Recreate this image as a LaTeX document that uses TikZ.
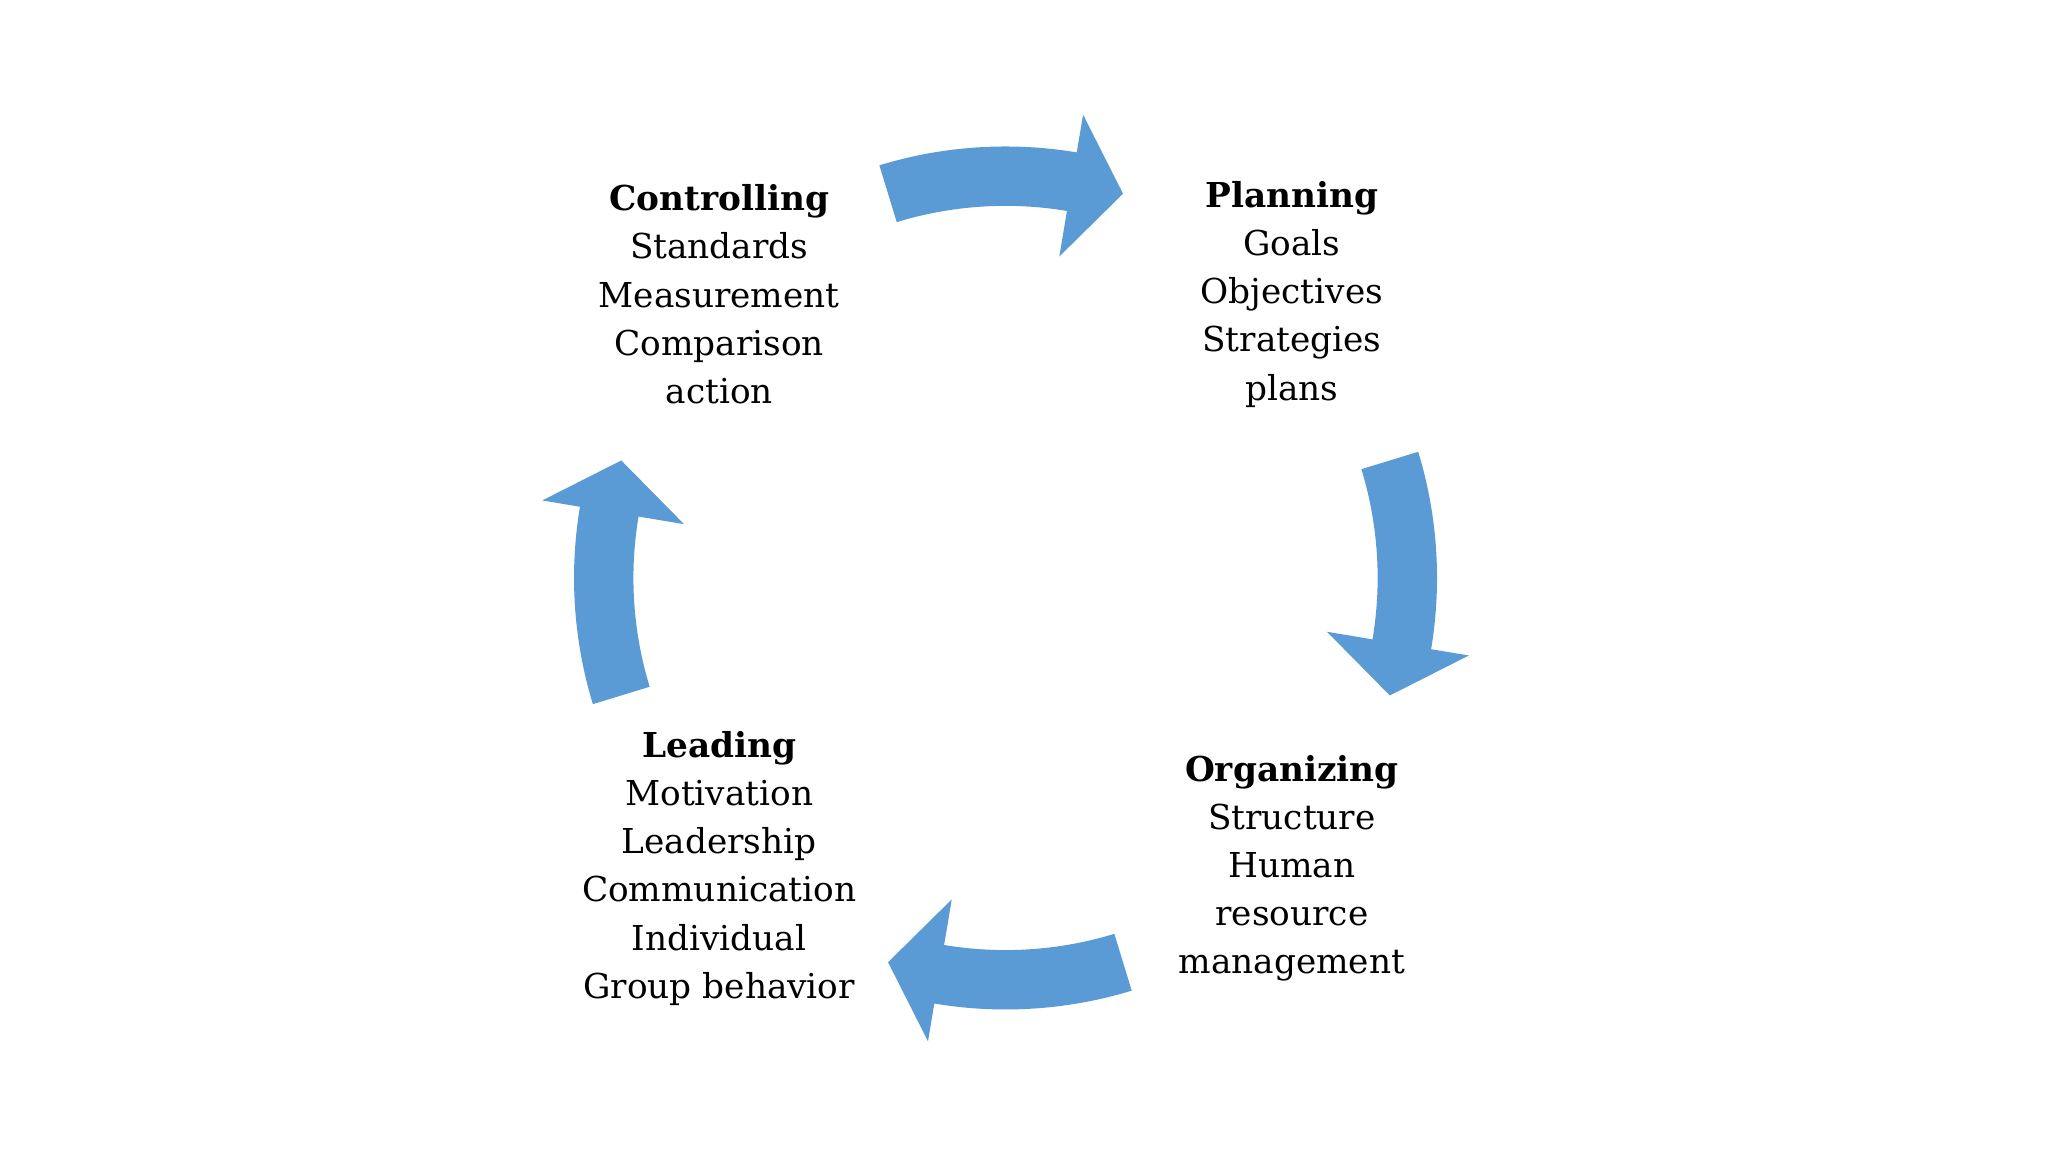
\documentclass[tikz,border=0pt]{standalone}
\usepackage{fontspec}
\setmainfont{DejaVu Serif}
\definecolor{arr}{HTML}{5B9BD5}
\tikzset{
  lbl/.style={align=center,font=\fontsize{26}{36.5}\selectfont,inner sep=0pt},
}
\newcommand{\cyclearrow}[2]{% name, axis angle
  \fill[arr] ([shift={(762pt,435pt)}]#2+17:327pt) arc[start angle=#2+17,end angle=#2-9.5,radius=327pt]
   -- ([shift={(762pt,435pt)}]#2-9.5:356pt) -- ([shift={(762pt,435pt)}]#2-17:304.5pt)
   -- ([shift={(762pt,435pt)}]#2-9.5:247pt) -- ([shift={(762pt,435pt)}]#2-9.5:282pt)
   arc[start angle=#2-9.5,end angle=#2+17,radius=282pt] -- cycle;}
\begin{document}
\begin{tikzpicture}[x=1pt,y=1pt]
\useasboundingbox[fill=white] (0,0) rectangle (1552,873);
\cyclearrow{top}{90}
\cyclearrow{right}{0}
\cyclearrow{bottom}{-90}
\cyclearrow{left}{180}
\node[lbl] (ctrl) at (545,650) {\textbf{Controlling}\\Standards\\Measurement\\Comparison\\action};
\node[lbl] (plan) at (979,650) {\textbf{Planning}\\Goals\\Objectives\\Strategies\\plans};
\node[lbl] (lead) at (545,215) {\textbf{Leading}\\Motivation\\Leadership\\Communication\\Individual\\Group behavior};
\node[lbl] (org) at (979,215) {\textbf{Organizing}\\Structure\\Human\\resource\\management};
\end{tikzpicture}
\end{document}
